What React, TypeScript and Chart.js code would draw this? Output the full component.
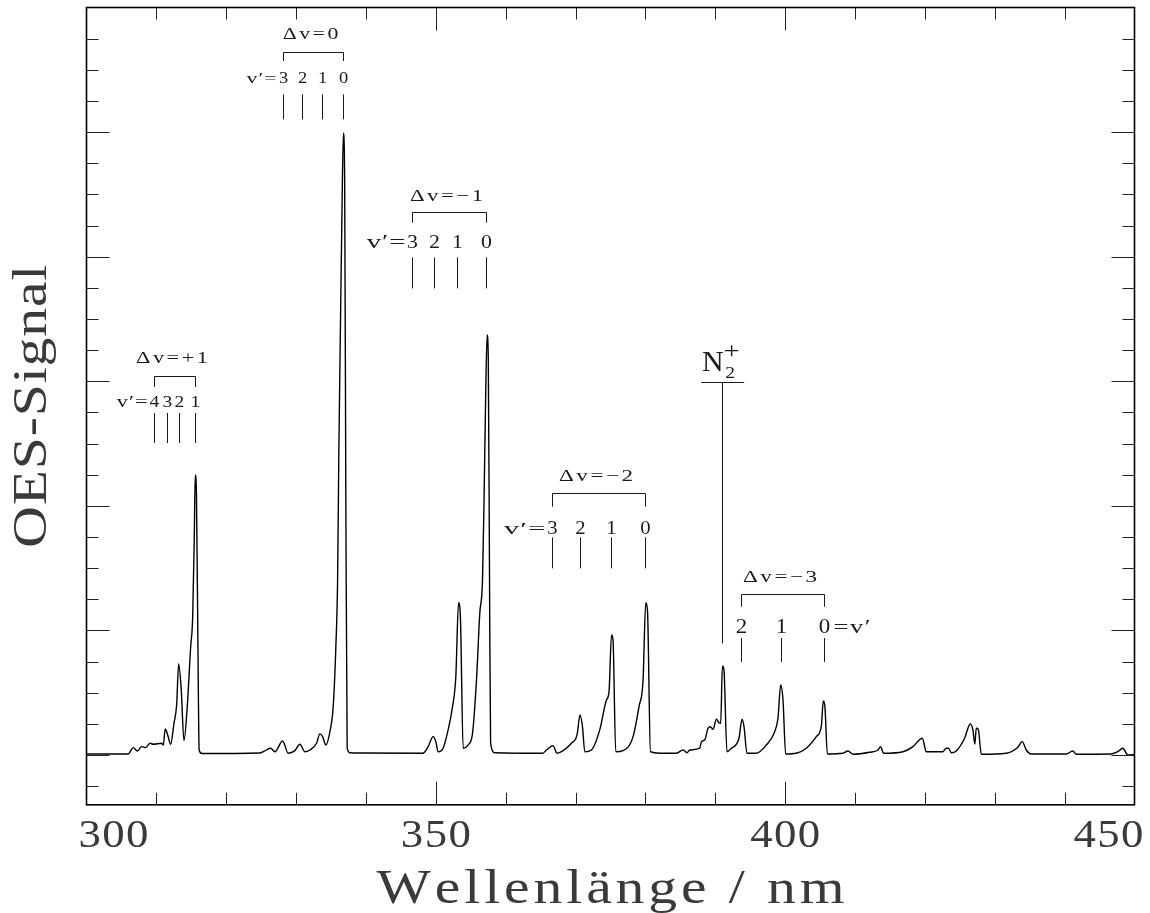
import React, { useEffect, useRef } from 'react';
import { Chart, registerables } from 'chart.js';

Chart.register(...registerables);

// ---- spectrum (wavelength in nm, OES signal in arbitrary units) ----
const wavelengthNm = [
  300.00, 305.94, 306.70, 307.27, 307.90, 308.47, 309.08, 309.56, 310.76, 310.99,
  311.27, 311.62, 312.05, 312.52, 312.90, 313.19, 313.56, 313.95, 314.42, 314.91,
  315.19, 315.42, 315.57, 315.74, 316.02, 316.12, 316.52, 324.82, 325.29, 326.35,
  326.97, 328.07, 328.87, 329.83, 330.54, 331.26, 331.97, 332.93, 333.40, 333.79,
  334.26, 334.84, 335.31, 335.69, 335.94, 336.12, 336.34, 336.55, 336.77, 336.95,
  337.12, 337.31, 337.70, 339.13, 348.14, 348.90, 349.61, 350.00, 350.33, 351.04,
  351.76, 352.39, 352.86, 353.25, 353.53, 353.91, 354.62, 355.25, 355.82, 356.29,
  356.68, 356.90, 357.10, 357.34, 357.51, 357.70, 357.84, 358.44, 365.31, 365.84,
  366.78, 367.35, 368.21, 369.41, 370.21, 370.64, 370.99, 371.32, 372.27, 373.46,
  374.42, 374.79, 375.14, 375.36, 375.75, 376.80, 378.23, 379.08, 379.66, 380.04,
  380.29, 380.72, 382.05, 384.43, 385.38, 385.95, 386.34, 387.77, 388.01, 388.48,
  388.96, 389.30, 389.67, 390.16, 390.53, 390.77, 391.02, 391.24, 391.67, 392.30,
  393.39, 393.82, 394.11, 394.53, 395.88, 397.31, 398.50, 398.97, 399.36, 399.69,
  400.07, 401.60, 403.03, 404.46, 405.18, 405.46, 405.69, 406.04, 408.27, 408.98,
  409.70, 412.09, 413.28, 413.66, 414.09, 416.85, 418.28, 419.63, 420.20, 422.57,
  423.06, 423.39, 423.78, 424.49, 425.68, 426.49, 426.87, 427.15, 427.35, 427.64,
  428.07, 431.65, 433.30, 433.93, 434.51, 435.22, 440.23, 441.17, 441.66, 446.67,
  447.61, 448.33, 449.04, 450.00,
];

const oesSignal = [
  0.008, 0.008, 0.059, 0.032, 0.067, 0.059, 0.094, 0.086, 0.094, 0.080,
  0.209, 0.161, 0.086, 0.254, 0.401, 0.730, 0.522, 0.115, 0.388, 0.869,
  1.097, 1.726, 2.247, 2.087, 0.441, 0.040, 0.012, 0.016, 0.026, 0.054,
  0.026, 0.112, 0.014, 0.035, 0.086, 0.026, 0.040, 0.094, 0.169, 0.147,
  0.080, 0.187, 0.388, 0.869, 1.404, 2.448, 3.411, 4.294, 4.992, 4.615,
  2.047, 0.056, 0.018, 0.016, 0.014, 0.067, 0.147, 0.107, 0.026, 0.054,
  0.201, 0.388, 0.628, 1.222, 1.083, 0.054, 0.080, 0.174, 0.602, 1.137,
  1.404, 2.047, 2.769, 3.371, 3.170, 1.244, 0.096, 0.018, 0.014, 0.040,
  0.075, 0.014, 0.035, 0.094, 0.161, 0.321, 0.227, 0.026, 0.040, 0.201,
  0.441, 0.508, 0.963, 0.923, 0.026, 0.035, 0.147, 0.388, 0.602, 1.222,
  1.164, 0.026, 0.014, 0.014, 0.040, 0.018, 0.040, 0.054, 0.107, 0.120,
  0.214, 0.227, 0.206, 0.287, 0.259, 0.254, 0.714, 0.682, 0.026, 0.054,
  0.134, 0.287, 0.227, 0.014, 0.014, 0.080, 0.187, 0.295, 0.562, 0.441,
  0.008, 0.014, 0.054, 0.147, 0.233, 0.433, 0.388, 0.008, 0.014, 0.032,
  0.006, 0.022, 0.040, 0.067, 0.014, 0.026, 0.067, 0.134, 0.026, 0.026,
  0.054, 0.054, 0.018, 0.032, 0.134, 0.249, 0.201, 0.088, 0.214, 0.206,
  0.006, 0.014, 0.062, 0.107, 0.040, 0.008, 0.008, 0.032, 0.006, 0.008,
  0.026, 0.054, 0.000, 0.004,
];

// ---- axes ----
const X_MIN = 300;
const X_MAX = 450;
const Y_MIN = -0.4;
const Y_MAX = 6;
const xTickValues = [300, 350, 400, 450];
const xTickLabels = ['300', '350', '400', '450'];
const xTitle = 'Wellenlänge / nm';
const yTitle = 'OES-Signal';

// ---- band annotations ----
const bandGroupLabels = ['Δv=+1', 'Δv=0', 'Δv=−1', 'Δv=−2', 'Δv=−3'];
const bandGroupNm = [
  [309.66, 311.56, 313.23, 315.57],
  [328.15, 330.83, 333.73, 336.74],
  [346.61, 349.71, 353.10, 357.15],
  [366.64, 370.70, 375.14, 380.00],
  [393.73, 399.46, 405.51],
];
const bandGroupV = [
  ['4', '3', '2', '1'],
  ['3', '2', '1', '0'],
  ['3', '2', '1', '0'],
  ['3', '2', '1', '0'],
  ['2', '1', '0'],
];
const bandGroupMarkTop = [2.745, 5.303, 3.994, 1.747, 0.939];
const ionLabelNm = 390.96;
const ionLineTop = 2.996;
const ionLineBottom = 0.896;

// pixel layout of each annotation group (relative to marker-top)
const groupStyle = [
  { len: 30, num: -6.3, br: -37.3, leg: -26, lab: -50, numFont: 17, vw: 30.7, lw: 72, prefix: true },
  { len: 25, num: -11, br: -42.6, leg: -33.3, lab: -55, numFont: 16, vw: 30, lw: 55.6, prefix: true },
  { len: 31, num: -9, br: -45, leg: -34.6, lab: -56.6, numFont: 19, vw: 38.7, lw: 73, prefix: true },
  { len: 31, num: -3.3, br: -44, leg: -30.6, lab: -56.6, numFont: 18, vw: 41.7, lw: 74, prefix: true },
  { len: 24, num: -5.3, br: -44, leg: -31.3, lab: -56.3, numFont: 20, vw: 37, lw: 74, prefix: false },
];

const SERIF = '"Liberation Serif", serif';

function drawStretched(
  ctx: CanvasRenderingContext2D,
  text: string,
  x: number,
  y: number,
  size: number,
  opts: { width?: number; sx?: number; gap?: number; align?: 'left' | 'center' | 'right' } = {}
) {
  const align = opts.align ?? 'center';
  ctx.font = `${size}px ${SERIF}`;
  ctx.textAlign = 'left';
  const chars = Array.from(text);
  const raw = chars.map((c) => ctx.measureText(c).width);
  const nat0 = raw.reduce((a, b) => a + b, 0);
  const n = chars.length;
  let sx = opts.sx ?? 1.15;
  let gap = 0;
  if (opts.width !== undefined) {
    if (opts.gap !== undefined) {
      gap = opts.gap;
      sx = (opts.width - gap * (n - 1)) / nat0;
    } else {
      gap = n > 1 ? (opts.width - nat0 * sx) / (n - 1) : 0;
    }
  }
  const ws = raw.map((w) => w * sx);
  const total = ws.reduce((a, b) => a + b, 0) + gap * (n - 1);
  let cx = align === 'center' ? x - total / 2 : align === 'right' ? x - total : x;
  chars.forEach((c, i) => {
    ctx.save();
    ctx.translate(cx, y);
    ctx.scale(sx, 1);
    ctx.fillText(c, 0, 0);
    ctx.restore();
    cx += ws[i] + gap;
  });
}

const framePlugin = {
  id: 'oesFrame',
  afterDatasetsDraw(chart: any) {
    const ctx: CanvasRenderingContext2D = chart.ctx;
    const { left, right, top, bottom } = chart.chartArea;
    const xs = chart.scales.x;
    const ys = chart.scales.y;
    ctx.save();

    // ticks
    ctx.strokeStyle = '#222';
    ctx.lineWidth = 1;
    ctx.beginPath();
    for (let v = X_MIN + 10; v < X_MAX; v += 10) {
      const px = Math.round(xs.getPixelForValue(v)) + 0.5;
      const len = v % 50 === 0 ? 23 : 12;
      ctx.moveTo(px, bottom);
      ctx.lineTo(px, bottom - len);
      ctx.moveTo(px, top);
      ctx.lineTo(px, top + len);
    }
    for (let k = Math.ceil(Y_MIN * 4); k < Y_MAX * 4; k++) {
      const v = k / 4;
      const py = Math.round(ys.getPixelForValue(v)) + 0.5;
      const len = k % 4 === 0 ? 23 : 12;
      ctx.moveTo(left, py);
      ctx.lineTo(left + len, py);
      ctx.moveTo(right, py);
      ctx.lineTo(right - len, py);
    }
    ctx.stroke();

    // frame
    ctx.strokeStyle = '#000';
    ctx.lineWidth = 1.6;
    ctx.strokeRect(left, top, right - left, bottom - top);

    // tick labels
    ctx.fillStyle = '#3a3a3a';
    ctx.textBaseline = 'alphabetic';
    xTickValues.forEach((v, i) => {
      const w = 70;
      let cx = xs.getPixelForValue(v);
      cx = Math.max(cx, left - 8 + w / 2);
      cx = Math.min(cx, right + 9 - w / 2);
      drawStretched(ctx, xTickLabels[i], cx, bottom + 42, 40, { width: w, sx: 1.12 });
    });

    // axis titles
    drawStretched(ctx, xTitle, (left + right) / 2, bottom + 98, 48, { width: 468, sx: 1.2 });
    ctx.save();
    ctx.translate(left - 41, (top + bottom) / 2);
    ctx.rotate(-Math.PI / 2);
    drawStretched(ctx, yTitle, 0, 0, 48, { width: 283, sx: 1.2 });
    ctx.restore();

    // band annotations
    ctx.fillStyle = '#1a1a1a';
    ctx.strokeStyle = '#1a1a1a';
    ctx.lineWidth = 1;
    bandGroupNm.forEach((nms, g) => {
      const st = groupStyle[g];
      const yTop = ys.getPixelForValue(bandGroupMarkTop[g]);
      const pxs = nms.map((v) => Math.round(xs.getPixelForValue(v)) + 0.5);
      ctx.beginPath();
      pxs.forEach((px) => {
        ctx.moveTo(px, yTop);
        ctx.lineTo(px, yTop + st.len);
      });
      const x0 = pxs[0];
      const x1 = pxs[pxs.length - 1];
      const yb = Math.round(yTop + st.br) + 0.5;
      ctx.moveTo(x0, yTop + st.leg);
      ctx.lineTo(x0, yb);
      ctx.lineTo(x1, yb);
      ctx.lineTo(x1, yTop + st.leg);
      ctx.stroke();

      drawStretched(ctx, bandGroupLabels[g], (x0 + x1) / 2 - 3, yTop + st.lab, 17, { width: st.lw, gap: 2.5 });
      pxs.forEach((px) => {
        // nothing; numbers drawn below
        void px;
      });
      bandGroupV[g].forEach((lab, i) => {
        drawStretched(ctx, lab, pxs[i], yTop + st.num, st.numFont, { sx: 1.15 });
      });
      if (st.prefix) {
        drawStretched(ctx, 'v′=', x0 - 7, yTop + st.num, st.numFont - 1, { width: st.vw, gap: 1, align: 'right' });
      } else {
        drawStretched(ctx, '=v′', x1 + 9, yTop + st.num, st.numFont - 1, { width: st.vw, gap: 1.5, align: 'left' });
      }
    });

    // N2+ marker
    const ix = Math.round(xs.getPixelForValue(ionLabelNm)) + 0.5;
    const iTop = Math.round(ys.getPixelForValue(ionLineTop)) + 0.5;
    const iBot = ys.getPixelForValue(ionLineBottom);
    ctx.beginPath();
    ctx.moveTo(ix, iTop);
    ctx.lineTo(ix, iBot);
    ctx.moveTo(ix - 21.3, iTop);
    ctx.lineTo(ix + 21.7, iTop);
    ctx.stroke();
    drawStretched(ctx, 'N', ix - 20.6, iTop - 11.7, 30, { sx: 1.0, align: 'left' });
    drawStretched(ctx, '2', ix + 2.7, iTop - 5, 17, { sx: 1.15, align: 'left' });
    drawStretched(ctx, '+', ix + 9.2, iTop - 25, 24, { sx: 1.2, align: 'center' });

    ctx.restore();
  },
};

export default function App() {
  const canvasRef = useRef<HTMLCanvasElement | null>(null);

  useEffect(() => {
    const canvas = canvasRef.current;
    if (!canvas) return;
    const chart = new Chart(canvas, {
      type: 'line',
      data: {
        datasets: [
          {
            label: yTitle,
            data: wavelengthNm.map((x, i) => ({ x, y: oesSignal[i] })),
            borderColor: '#000',
            borderWidth: 1.4,
            pointRadius: 0,
            fill: false,
            cubicInterpolationMode: 'monotone',
          },
        ],
      },
      options: {
        responsive: false,
        animation: false,
        devicePixelRatio: 1,
        layout: { padding: { left: 86.5, right: 15.5, top: 7.5, bottom: 108.2 } },
        scales: {
          x: { type: 'linear', min: X_MIN, max: X_MAX, display: false },
          y: { type: 'linear', min: Y_MIN, max: Y_MAX, display: false },
        },
        plugins: {
          legend: { display: false },
          tooltip: { enabled: false },
        },
      },
      plugins: [framePlugin],
    });
    return () => chart.destroy();
  }, []);

  return (
    <div style={{ position: 'absolute', left: 0, top: 0, width: 1150, height: 913, background: '#fff' }}>
      <canvas ref={canvasRef} width={1150} height={913} style={{ display: 'block' }} />
    </div>
  );
}
